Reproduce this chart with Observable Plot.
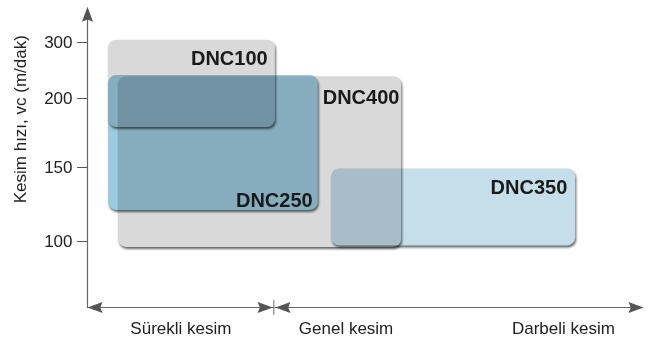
<!DOCTYPE html>
<html><head><meta charset="utf-8">
<script src="https://cdn.jsdelivr.net/npm/d3@7"></script>
<script src="https://cdn.jsdelivr.net/npm/@observablehq/plot@0.6"></script>
<style>
body{margin:0;background:#fff}
svg g[aria-label="rect"] rect{mix-blend-mode:multiply;filter:drop-shadow(1px 2.5px 1px rgba(0,0,0,0.6))}
</style></head><body><div id="chart"></div>
<script>
// Boxes (drawn in this order)
const names  = ["DNC400", "DNC100", "DNC250", "DNC350"];
const xStart = [5.6, 3.8, 3.8, 43.9];
const xEnd   = [56.5, 33.8, 41.5, 87.8];
const vcMin  = [96, 179, 121, 97];
const vcMax  = [239, 304, 241, 149];
const fills  = ["#d9d9d9", "#d9d9d9", "#9ccbe0", "#c6deea"];
const labelX = [56.1, 32.4, 40.5, 86.3];
const labelY = [196, 259, 123, 132];
// Axes
const yTicks = [100, 150, 200, 300];
const cats   = ["Sürekli kesim", "Genel kesim", "Darbeli kesim"];
const catX   = [16.8, 46.5, 85.6];
const sep    = 33.5;
const xAxisV = 55.4;
const yTop   = 364;
const yTitle = "Kesim hızı, vc (m/dak)";
const titleV = 185;

const boxes = names.map((n, i) => ({n, x1: xStart[i], x2: xEnd[i], y1: vcMin[i], y2: vcMax[i], f: fills[i], lx: labelX[i], ly: labelY[i]}));
const heads = [
  {x: 0, y: yTop, r: 0},
  {x: 0, y: xAxisV, r: -90},
  {x: sep - 0.2, y: xAxisV, r: 90},
  {x: sep + 0.3, y: xAxisV, r: -90},
  {x: 100, y: xAxisV, r: 90}
];
const stealth = {draw(ctx, l, r) { ctx.moveTo(-r, 0); ctx.lineTo(0, -l); ctx.lineTo(r, 0); ctx.lineTo(0, -l * 0.15); ctx.closePath(); }};
const vline = {draw(ctx, l) { ctx.moveTo(0, 0); ctx.lineTo(0, -l); }};

const chart = Plot.plot({
  width: 654, height: 338,
  marginLeft: 87, marginRight: 11, marginTop: 6, marginBottom: 31,
  style: {fontFamily: "'Liberation Sans', Arial, sans-serif", background: "#fff"},
  x: {domain: [0, 100], axis: null},
  y: {type: "linear", domain: yTicks, range: [241, 167, 98, 42]},
  marks: [
    Plot.rect(boxes, {x1: "x1", x2: "x2", y1: "y1", y2: "y2", fill: "f", rx: 8}),
    Plot.text(boxes, {x: "lx", y: "ly", text: "n", textAnchor: "end", lineAnchor: "bottom", fontSize: 20, fontWeight: "bold", fill: "#1a1a1a"}),
    Plot.ruleX([0], {y1: xAxisV, y2: yTop - 20, stroke: "#666", strokeWidth: 1.2}),
    Plot.ruleY([xAxisV], {x1: 0, x2: 100, stroke: "#666", strokeWidth: 1.2}),
    Plot.vector([{x: sep, y: xAxisV}], {x: "x", y: "y", length: 14, anchor: "middle", shape: vline, stroke: "#888", strokeWidth: 1.2}),
    Plot.vector(heads, {x: "x", y: "y", rotate: "r", length: 15, r: 5.5, anchor: "end", shape: stealth, fill: "#555", stroke: "none"}),
    Plot.axisY({ticks: yTicks, tickSize: 10, tickPadding: 5, fontSize: 17, stroke: "#555", fill: "#222", label: null, tickFormat: d => String(d)}),
    Plot.text(cats, {x: (d, i) => catX[i], frameAnchor: "bottom", dy: 26, lineAnchor: "bottom", fontSize: 17, fill: "#222"}),
    Plot.text([yTitle], {y: [titleV], frameAnchor: "left", dx: -67, rotate: -90, textAnchor: "middle", lineAnchor: "middle", fontSize: 17, fill: "#222"})
  ]
});
document.getElementById("chart").append(chart);
</script></body></html>
